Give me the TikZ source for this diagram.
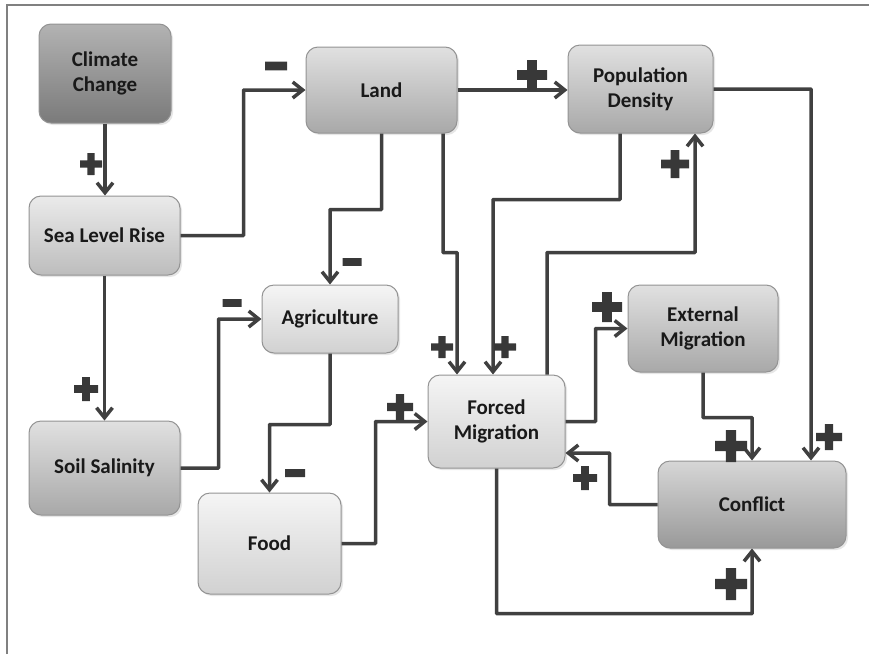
\documentclass[tikz,border=0pt]{standalone}
\usepackage{fontspec}
\setmainfont{Carlito}
\usetikzlibrary{arrows.meta,shadows}

\definecolor{linecol}{HTML}{404040}
\definecolor{signcol}{HTML}{383838}
\tikzset{
    box/.style={draw=gray!85, line width=1pt, rounded corners=12pt, align=center,
        inner sep=0pt, font=\fontsize{21}{25}\selectfont\bfseries, text=black!90,
        drop shadow={shadow xshift=2pt, shadow yshift=-2pt, opacity=0.2}},
    darkbox/.style={box, top color=black!30, bottom color=black!52},
    midbox/.style={box, top color=black!12, bottom color=black!34},
    lightbox/.style={box, top color=black!4, bottom color=black!18},
    link/.style={draw=linecol, line width=3.5pt, rounded corners=0.5pt,
        -{Straight Barb[length=10pt,width=16pt]}},
    plus/.pic={\fill[signcol, rounded corners=0.04] (-0.5,-0.16) rectangle (0.5,0.16)
        (-0.16,-0.5) rectangle (0.16,0.5);},
    minus/.pic={\fill[signcol, rounded corners=0.04] (-0.5,-0.2) rectangle (0.5,0.2);}
}

\begin{document}
\begin{tikzpicture}[x=1pt, y=-1pt]
    \useasboundingbox (0,0) rectangle (869,654);
    \draw[gray, line width=1.5pt] (7,654) |- (869,5);

    \node[darkbox, minimum width=132pt, minimum height=99pt] (clim) at (105,73.5) {Climate\\Change};
    \node[lightbox, top color=black!8, bottom color=black!26, minimum width=151pt, minimum height=79pt] (slr) at (104.5,235.5) {Sea Level Rise};
    \node[midbox, minimum width=151pt, minimum height=86pt] (land) at (381.5,90) {Land};
    \node[midbox, minimum width=145pt, minimum height=88pt] (popd) at (640.5,89) {Population\\Density};
    \node[lightbox, minimum width=136pt, minimum height=68pt] (agri) at (330,319) {Agriculture};
    \node[midbox, minimum width=151pt, minimum height=94pt] (soil) at (104.5,468) {Soil Salinity};
    \node[lightbox, minimum width=143pt, minimum height=101pt] (food) at (269.5,543.5) {Food};
    \node[lightbox, minimum width=137pt, minimum height=93pt] (forced) at (496.5,421.5) {Forced\\Migration};
    \node[midbox, minimum width=150pt, minimum height=87pt] (ext) at (703,328.5) {External\\Migration};
    \node[midbox, top color=black!16, bottom color=black!40, minimum width=188pt, minimum height=87pt] (confl) at (752,504.5) {Conflict};

    \draw[link] (clim.south) -- (clim.south |- slr.north);
    \draw[link] (slr.east) -- ++(63,0) |- (land.west);
    \draw[link] (slr.south) -- (soil.north);
    \draw[link] (land.south) -- ++(0,76) -| (agri.north);
    \draw[link] ([xshift=61.5pt]land.south) -- ++(0,119) -| ([xshift=-39.5pt]forced.north);
    \draw[link] (land.east) -- (land.east -| popd.west);
    \draw[link] ([xshift=-20.5pt]popd.south) -- ++(0,66) -| ([xshift=-3.5pt]forced.north);
    \draw[link] ([xshift=50.5pt]forced.north) -- ++(0,-122) -| ([xshift=54.5pt]popd.south);
    \draw[link] (popd.east) -| ([xshift=59pt]confl.north);
    \draw[link] (soil.east) -- ++(38,0) |- (agri.west);
    \draw[link] (agri.south) -- ++(0,71) -| (food.north);
    \draw[link] (food.east) -- ++(34,0) |- (forced.west);
    \draw[link] (forced.east) -- ++(30,0) |- (ext.west);
    \draw[link] (ext.south) -- ++(0,45) -| (confl.north);
    \draw[link] (confl.west) -- ++(-48,0) |- ([yshift=-31.5pt]forced.east);
    \draw[link] (forced.south) -- ++(0,145) -| (confl.south);

    % signs
    \pic[scale=22] at (91,164) {plus};
    \pic[scale=22] at (276,66) {minus};
    \pic[scale=24] at (86,389) {plus};
    \pic[scale=19] at (352,262) {minus};
    \pic[scale=22] at (442,347) {plus};
    \pic[scale=30] at (532,75) {plus};
    \pic[scale=22] at (505,347) {plus};
    \pic[scale=28] at (675,164) {plus};
    \pic[scale=26] at (829,437) {plus};
    \pic[scale=19] at (232,303) {minus};
    \pic[scale=20] at (295,473) {minus};
    \pic[scale=26] at (400,407) {plus};
    \pic[scale=30] at (607,307) {plus};
    \pic[scale=32] at (731,446) {plus};
    \pic[scale=24] at (585,478) {plus};
    \pic[scale=32] at (731,584) {plus};
\end{tikzpicture}
\end{document}
